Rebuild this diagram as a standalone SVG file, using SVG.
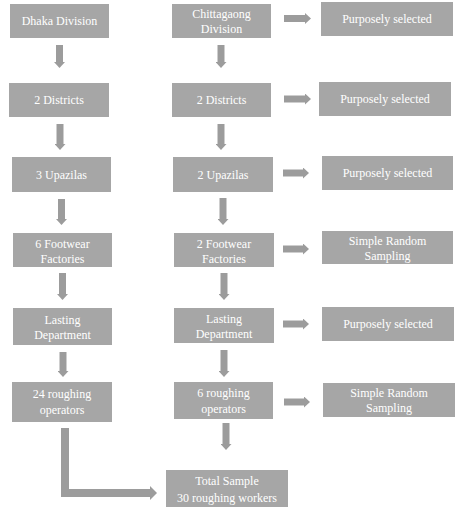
<svg xmlns="http://www.w3.org/2000/svg" width="474" height="513" viewBox="0 0 474 513">
<style>
.box{fill:#a6a6a6}
.t{font-family:"Liberation Serif","Times New Roman",serif;font-size:12px;fill:#ffffff;text-anchor:middle}
.c{stroke:#9c9c9c;stroke-width:7;fill:none}
.e{stroke:#9c9c9c;stroke-width:8;fill:none;stroke-linejoin:miter}
</style>
<defs>
<marker id="ah" viewBox="0 0 6 11" refX="0" refY="5.5" markerWidth="6" markerHeight="11" markerUnits="userSpaceOnUse" orient="auto">
<path d="M0,0 L6,5.5 L0,11 z" fill="#9c9c9c"/>
</marker>
<marker id="ah2" viewBox="0 0 7 14" refX="0" refY="7" markerWidth="7" markerHeight="14" markerUnits="userSpaceOnUse" orient="auto">
<path d="M0,0 L7,7 L0,14 z" fill="#9c9c9c"/>
</marker>
</defs>
<rect width="474" height="513" fill="#ffffff"/>
<g id="connectors">
<line class="c" x1="59.5" y1="45" x2="59.5" y2="62" marker-end="url(#ah)"/>
<line class="c" x1="60" y1="124" x2="60" y2="144" marker-end="url(#ah)"/>
<line class="c" x1="61.5" y1="199" x2="61.5" y2="219" marker-end="url(#ah)"/>
<line class="c" x1="62.5" y1="273" x2="62.5" y2="294" marker-end="url(#ah)"/>
<line class="c" x1="63" y1="352" x2="63" y2="371" marker-end="url(#ah)"/>
<line class="c" x1="221" y1="45" x2="221" y2="62" marker-end="url(#ah)"/>
<line class="c" x1="221" y1="124" x2="221" y2="144" marker-end="url(#ah)"/>
<line class="c" x1="223" y1="198" x2="223" y2="219" marker-end="url(#ah)"/>
<line class="c" x1="224" y1="273" x2="224" y2="294" marker-end="url(#ah)"/>
<line class="c" x1="224" y1="350" x2="224" y2="371" marker-end="url(#ah)"/>
<line class="c" x1="226" y1="423" x2="226" y2="444" marker-end="url(#ah)"/>
<line class="c" x1="284" y1="18.5" x2="305" y2="18.5" marker-end="url(#ah)"/>
<line class="c" x1="284" y1="99" x2="305" y2="99" marker-end="url(#ah)"/>
<line class="c" x1="283" y1="173" x2="303" y2="173" marker-end="url(#ah)"/>
<line class="c" x1="283" y1="249" x2="303" y2="249" marker-end="url(#ah)"/>
<line class="c" x1="283" y1="324" x2="303" y2="324" marker-end="url(#ah)"/>
<line class="c" x1="284" y1="402" x2="304" y2="402" marker-end="url(#ah)"/>
<path class="e" d="M65,428 V493 H150" marker-end="url(#ah2)"/>
</g>
<g id="dhaka"><rect class="box" x="10" y="4" width="99" height="34"/><text class="t" x="59.5" y="25">Dhaka Division</text></g>
<g id="l-districts"><rect class="box" x="9" y="83" width="100" height="34"/><text class="t" x="59" y="104">2 Districts</text></g>
<g id="l-upazilas"><rect class="box" x="12" y="157" width="99" height="35"/><text class="t" x="61.5" y="178.5">3 Upazilas</text></g>
<g id="l-factories"><rect class="box" x="13" y="233" width="99" height="34"/><text class="t" x="62.5" y="248">6 Footwear</text><text class="t" x="62.5" y="263">Factories</text></g>
<g id="l-lasting"><rect class="box" x="13" y="308" width="99" height="37"/><text class="t" x="62.5" y="324">Lasting</text><text class="t" x="62.5" y="339">Department</text></g>
<g id="l-operators"><rect class="box" x="12" y="382" width="100" height="40"/><text class="t" x="62" y="398">24 roughing</text><text class="t" x="62" y="414">operators</text></g>
<g id="chittagong"><rect class="box" x="172" y="4" width="99" height="34"/><text class="t" x="221.5" y="18">Chittagaong</text><text class="t" x="221.5" y="33">Division</text></g>
<g id="r-districts"><rect class="box" x="172" y="83" width="99" height="34"/><text class="t" x="221.5" y="104">2 Districts</text></g>
<g id="r-upazilas"><rect class="box" x="173" y="157" width="100" height="35"/><text class="t" x="223" y="178.5">2 Upazilas</text></g>
<g id="r-factories"><rect class="box" x="174" y="233" width="100" height="34"/><text class="t" x="224" y="248">2 Footwear</text><text class="t" x="224" y="263">Factories</text></g>
<g id="r-lasting"><rect class="box" x="174" y="308" width="100" height="35"/><text class="t" x="224" y="323">Lasting</text><text class="t" x="224" y="338">Department</text></g>
<g id="r-operators"><rect class="box" x="174" y="382" width="99" height="37"/><text class="t" x="223.5" y="397">6 roughing</text><text class="t" x="223.5" y="413">operators</text></g>
<g id="total"><rect class="box" x="166" y="470" width="122" height="37"/><text class="t" x="227" y="485">Total Sample</text><text class="t" x="227" y="502">30 roughing workers</text></g>
<g id="s1"><rect class="box" x="321" y="2" width="132" height="34"/><text class="t" x="387" y="23">Purposely selected</text></g>
<g id="s2"><rect class="box" x="319" y="82" width="132" height="34"/><text class="t" x="385" y="103">Purposely selected</text></g>
<g id="s3"><rect class="box" x="322" y="156" width="131" height="34"/><text class="t" x="387.5" y="177">Purposely selected</text></g>
<g id="s4"><rect class="box" x="322" y="231" width="131" height="33"/><text class="t" x="387.5" y="245">Simple Random</text><text class="t" x="387.5" y="260">Sampling</text></g>
<g id="s5"><rect class="box" x="322" y="307" width="132" height="34"/><text class="t" x="388" y="328">Purposely selected</text></g>
<g id="s6"><rect class="box" x="323" y="383" width="132" height="34"/><text class="t" x="389" y="397">Simple Random</text><text class="t" x="389" y="412">Sampling</text></g>
</svg>
